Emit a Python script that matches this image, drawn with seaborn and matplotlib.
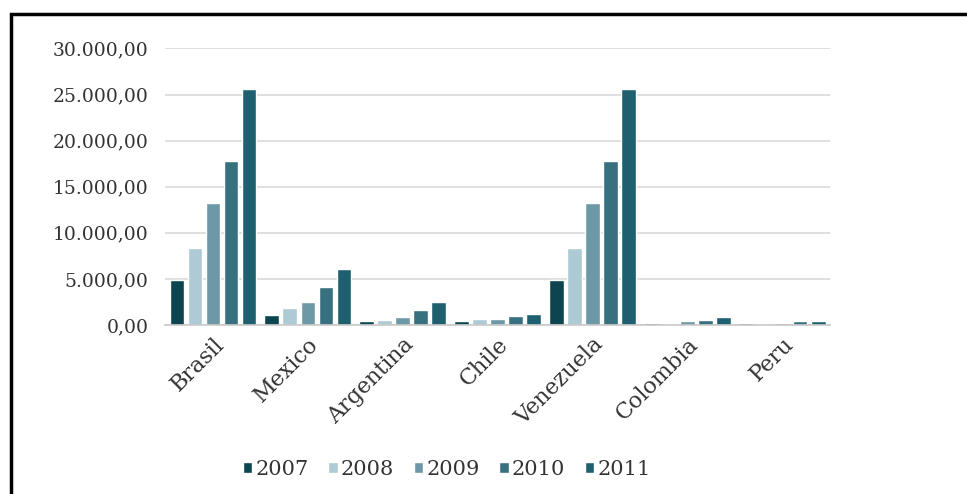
import matplotlib
matplotlib.use("Agg")
import matplotlib.pyplot as plt
import seaborn as sns
import pandas as pd
from matplotlib.ticker import FuncFormatter
from matplotlib.patches import Rectangle

countries = ["Brasil", "Mexico", "Argentina", "Chile", "Venezuela", "Colombia", "Peru"]
years = ["2007", "2008", "2009", "2010", "2011"]
v2007 = [4850, 1100, 400, 400, 4900, 250, 250]
v2008 = [8400, 1800, 500, 700, 8400, 150, 100]
v2009 = [13250, 2500, 850, 700, 13250, 400, 200]
v2010 = [17750, 4100, 1600, 1000, 17750, 600, 400]
v2011 = [25600, 6100, 2500, 1200, 25600, 900, 400]
colors = ["#0c4550", "#aecad4", "#6d98a6", "#37707e", "#1f6070"]

series = [v2007, v2008, v2009, v2010, v2011]
df = pd.DataFrame(
    [(c, y, s[i]) for y, s in zip(years, series) for i, c in enumerate(countries)],
    columns=["country", "year", "value"],
)

sns.set_theme(style="white")
plt.rcParams["font.family"] = ["DejaVu Serif"]

fig = plt.figure(figsize=(9.67, 4.94), dpi=100)
ax = fig.add_axes([0.171, 0.342, 0.687, 0.56])

sns.barplot(data=df, x="country", y="value", hue="year", palette=colors,
            width=0.95, gap=0.2, ax=ax, legend=True, saturation=1)

ax.set_ylim(0, 30000)
ax.set_xlim(-0.5, len(countries) - 0.5)
ax.set_yticks(range(0, 30001, 5000))
fmt = lambda v, p: f"{v:,.2f}".replace(",", "X").replace(".", ",").replace("X", ".")
ax.yaxis.set_major_formatter(FuncFormatter(fmt))
ax.grid(axis="y", color="#d9d9d9", linewidth=1.2)
ax.set_axisbelow(True)
for s in ["left", "right", "top"]:
    ax.spines[s].set_visible(False)
ax.spines["bottom"].set_color("#c8c8c8")
ax.spines["bottom"].set_linewidth(1.2)
ax.tick_params(axis="y", length=0, pad=12, labelsize=13.5, labelcolor="#333333")
ax.tick_params(axis="x", length=0, pad=6, labelsize=16, labelcolor="#333333")
ax.set_xlabel("")
ax.set_ylabel("")
plt.setp(ax.get_xticklabels(), rotation=45, ha="right", rotation_mode="anchor")

handles, labels = ax.get_legend_handles_labels()
ax.legend(handles, labels, loc="center", bbox_to_anchor=(0.462, 0.05),
          bbox_transform=fig.transFigure, ncol=5, frameon=False, fontsize=15,
          handlelength=0.45, handleheight=0.45, handletextpad=0.15, columnspacing=0.95,
          labelcolor="#333333")

# frame around the chart (left and top edges visible)
fig.patches.append(Rectangle((11 / 967, -0.1), 1.2, (494 - 14) / 494 + 0.1,
                             transform=fig.transFigure, fill=False,
                             edgecolor="black", linewidth=2.5))

fig.savefig("out.png", dpi=100)
